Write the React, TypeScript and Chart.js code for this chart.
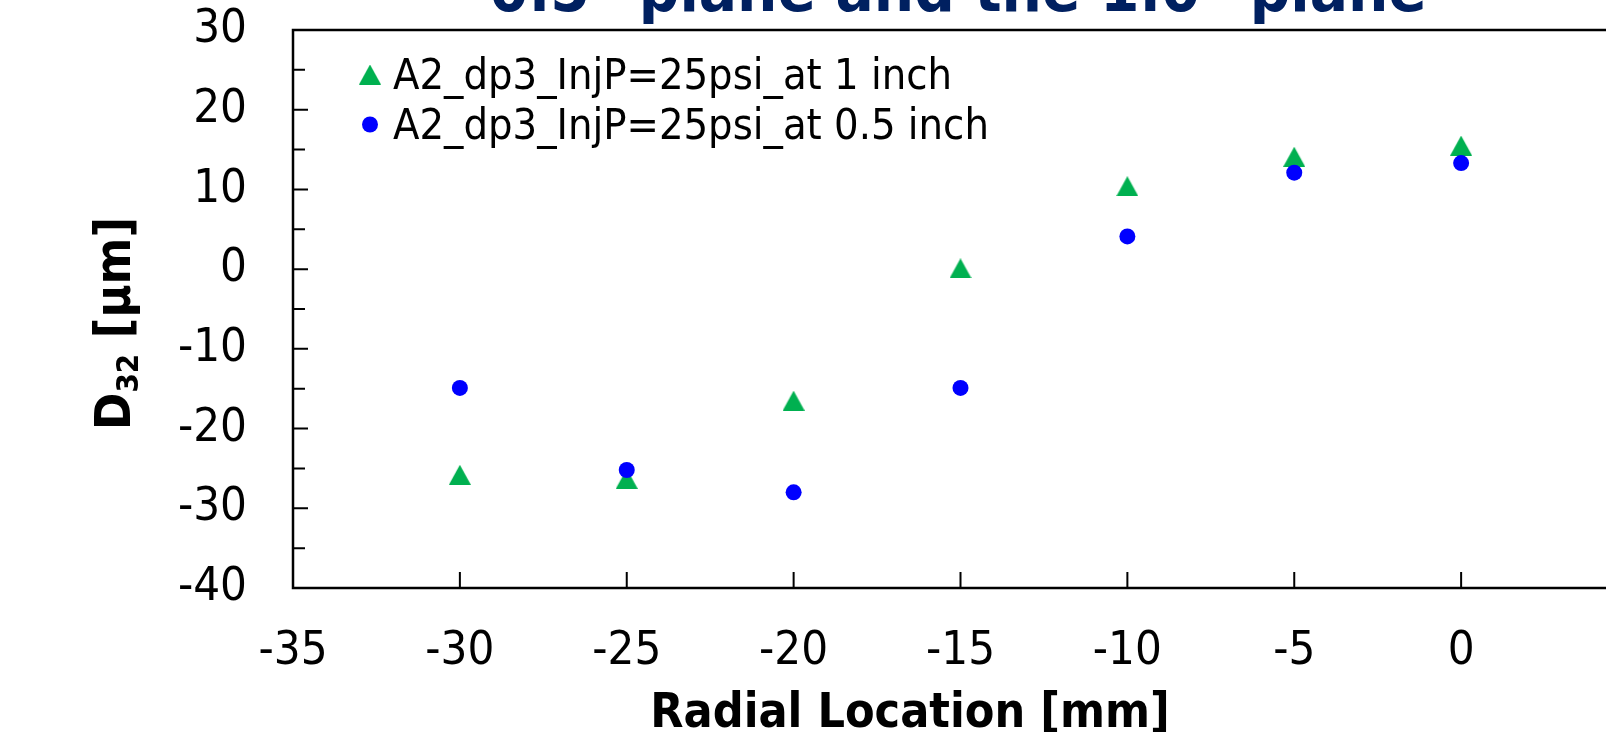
import React, { useEffect, useRef } from 'react';
import { Chart, registerables } from 'chart.js';

Chart.register(...registerables);

// ---- data ----
const radialLocations = [-30, -25, -20, -15, -10, -5, 0];
const d32At1Inch = [-25.8, -26.3, -16.5, 0.1, 10.4, 14.1, 15.5];
const d32At05Inch = [-14.9, -25.2, -28.0, -14.9, 4.1, 12.1, 13.3];
const seriesLabels = ['A2_dp3_InjP=25psi_at 1 inch', 'A2_dp3_InjP=25psi_at 0.5 inch'];
const xTickValues = [-35, -30, -25, -20, -15, -10, -5, 0, 5];
const yTickValues = [-40, -30, -20, -10, 0, 10, 20, 30];
const yMinorTicks = [-35, -25, -15, -5, 5, 15, 25];
const titleText = '0.5" plane and the 1.0" plane';
const xTitleText = 'Radial Location [mm]';
const yTitleMain = 'D';
const yTitleSub = '32';
const yTitleRest = ' [µm]';

const GREEN = '#00B050';
const BLUE = '#0000FF';
const NAVY = '#002060';
const FAMILY = '"DejaVu Sans Condensed", "DejaVu Sans", sans-serif';

function makeTriangle(color: string, w: number, h: number) {
  const c = document.createElement('canvas');
  c.width = w;
  c.height = h;
  const g = c.getContext('2d')!;
  g.fillStyle = color;
  g.beginPath();
  g.moveTo(w / 2, 0);
  g.lineTo(w, h);
  g.lineTo(0, h);
  g.closePath();
  g.fill();
  return c;
}

export default function App() {
  const ref = useRef<HTMLCanvasElement>(null);

  useEffect(() => {
    const canvas = ref.current!;
    const tri = makeTriangle(GREEN, 22, 20);

    const decor = {
      id: 'decor',
      afterDraw(chart: any) {
        const ctx = chart.ctx as CanvasRenderingContext2D;
        const { left, right, top, bottom } = chart.chartArea;
        const xs = chart.scales.x;
        const ys = chart.scales.y;
        ctx.save();
        // frame
        ctx.strokeStyle = '#000';
        ctx.lineWidth = 2.5;
        ctx.strokeRect(left, top, right - left, bottom - top);
        // inner ticks
        ctx.lineWidth = 2;
        ctx.beginPath();
        xTickValues.forEach((v) => {
          const px = xs.getPixelForValue(v);
          if (px <= left + 1 || px >= right - 1) return;
          ctx.moveTo(px, bottom);
          ctx.lineTo(px, bottom - 16);
        });
        yTickValues.forEach((v) => {
          const py = ys.getPixelForValue(v);
          ctx.moveTo(left, py);
          ctx.lineTo(left + 15, py);
        });
        yMinorTicks.forEach((v) => {
          const py = ys.getPixelForValue(v);
          ctx.moveTo(left, py);
          ctx.lineTo(left + 12, py);
        });
        ctx.stroke();

        // legend
        ctx.fillStyle = '#000';
        ctx.font = `43px ${FAMILY}`;
        ctx.textAlign = 'left';
        ctx.textBaseline = 'alphabetic';
        ctx.drawImage(tri, 370 - 11, 74.5 - 10);
        ctx.fillText(seriesLabels[0], 393, 89);
        ctx.fillStyle = BLUE;
        ctx.beginPath();
        ctx.arc(370, 124.5, 8, 0, Math.PI * 2);
        ctx.fill();
        ctx.fillStyle = '#000';
        ctx.fillText(seriesLabels[1], 393, 139);

        // top title (cut off by canvas edge)
        ctx.fillStyle = NAVY;
        ctx.font = `bold 63px ${FAMILY}`;
        ctx.textAlign = 'center';
        ctx.fillText(titleText, 958, 11);

        // x title
        ctx.fillStyle = '#000';
        ctx.font = `bold 48px ${FAMILY}`;
        ctx.fillText(xTitleText, 910, 727);

        // y title with subscript
        ctx.translate(130, 323.5);
        ctx.rotate(-Math.PI / 2);
        ctx.textAlign = 'left';
        const mainFont = `bold 50px ${FAMILY}`;
        const subFont = `bold 31px ${FAMILY}`;
        ctx.font = mainFont;
        const wD = ctx.measureText(yTitleMain).width;
        const wR = ctx.measureText(yTitleRest).width;
        ctx.font = subFont;
        const wS = ctx.measureText(yTitleSub).width;
        const total = wD + wS + wR;
        let x0 = -total / 2;
        ctx.font = mainFont;
        ctx.fillText(yTitleMain, x0, 0);
        x0 += wD;
        ctx.font = subFont;
        ctx.fillText(yTitleSub, x0, 8);
        x0 += wS;
        ctx.font = mainFont;
        ctx.fillText(yTitleRest, x0, 0);
        ctx.restore();
      },
    };

    const chart = new Chart(canvas, {
      type: 'scatter',
      data: {
        datasets: [
          {
            label: seriesLabels[0],
            data: radialLocations.map((x, i) => ({ x, y: d32At1Inch[i] })),
            pointStyle: tri as any,
            pointRadius: 11,
            backgroundColor: GREEN,
            borderColor: GREEN,
            borderWidth: 0,
            order: 1,
          },
          {
            label: seriesLabels[1],
            data: radialLocations.map((x, i) => ({ x, y: d32At05Inch[i] })),
            pointStyle: 'circle',
            pointRadius: 8,
            backgroundColor: BLUE,
            borderColor: BLUE,
            borderWidth: 0,
            order: 0,
          },
        ],
      },
      options: {
        animation: false,
        responsive: false,
        maintainAspectRatio: false,
        devicePixelRatio: 1,
        layout: { padding: { top: 30, left: 0, right: 72, bottom: 0 } },
        plugins: {
          legend: { display: false },
          title: { display: false },
          tooltip: { enabled: false },
        },
        scales: {
          x: {
            type: 'linear',
            position: 'bottom',
            min: -35,
            max: 5,
            afterBuildTicks: (s: any) => {
              s.ticks = xTickValues.map((v) => ({ value: v }));
            },
            afterFit: (s: any) => {
              s.height = 144;
              s.paddingLeft = 0;
              s.paddingRight = 0;
              s.paddingTop = 0;
              s.paddingBottom = 0;
            },
            grid: { display: false, drawTicks: false },
            border: { display: false },
            ticks: {
              color: '#000',
              padding: 36,
              font: { family: FAMILY, size: 47 },
              callback: (v: any) => String(v),
            },
          },
          y: {
            type: 'linear',
            position: 'left',
            min: -40,
            max: 30,
            afterBuildTicks: (s: any) => {
              s.ticks = yTickValues.map((v) => ({ value: v }));
            },
            afterFit: (s: any) => {
              s.width = 293;
              s.paddingLeft = 0;
              s.paddingRight = 0;
              s.paddingTop = 0;
              s.paddingBottom = 0;
            },
            grid: { display: false, drawTicks: false },
            border: { display: false },
            ticks: {
              color: '#000',
              padding: 46,
              font: { family: FAMILY, size: 47 },
              callback: (v: any) => String(v),
            },
          },
        },
      },
      plugins: [decor],
    } as any);

    return () => chart.destroy();
  }, []);

  return (
    <div
      style={{
        position: 'fixed',
        left: 0,
        top: 0,
        width: 1606,
        height: 732,
        overflow: 'hidden',
        background: '#fff',
      }}
    >
      <canvas ref={ref} width={1700} height={732} style={{ display: 'block', width: 1700, height: 732 }} />
    </div>
  );
}
